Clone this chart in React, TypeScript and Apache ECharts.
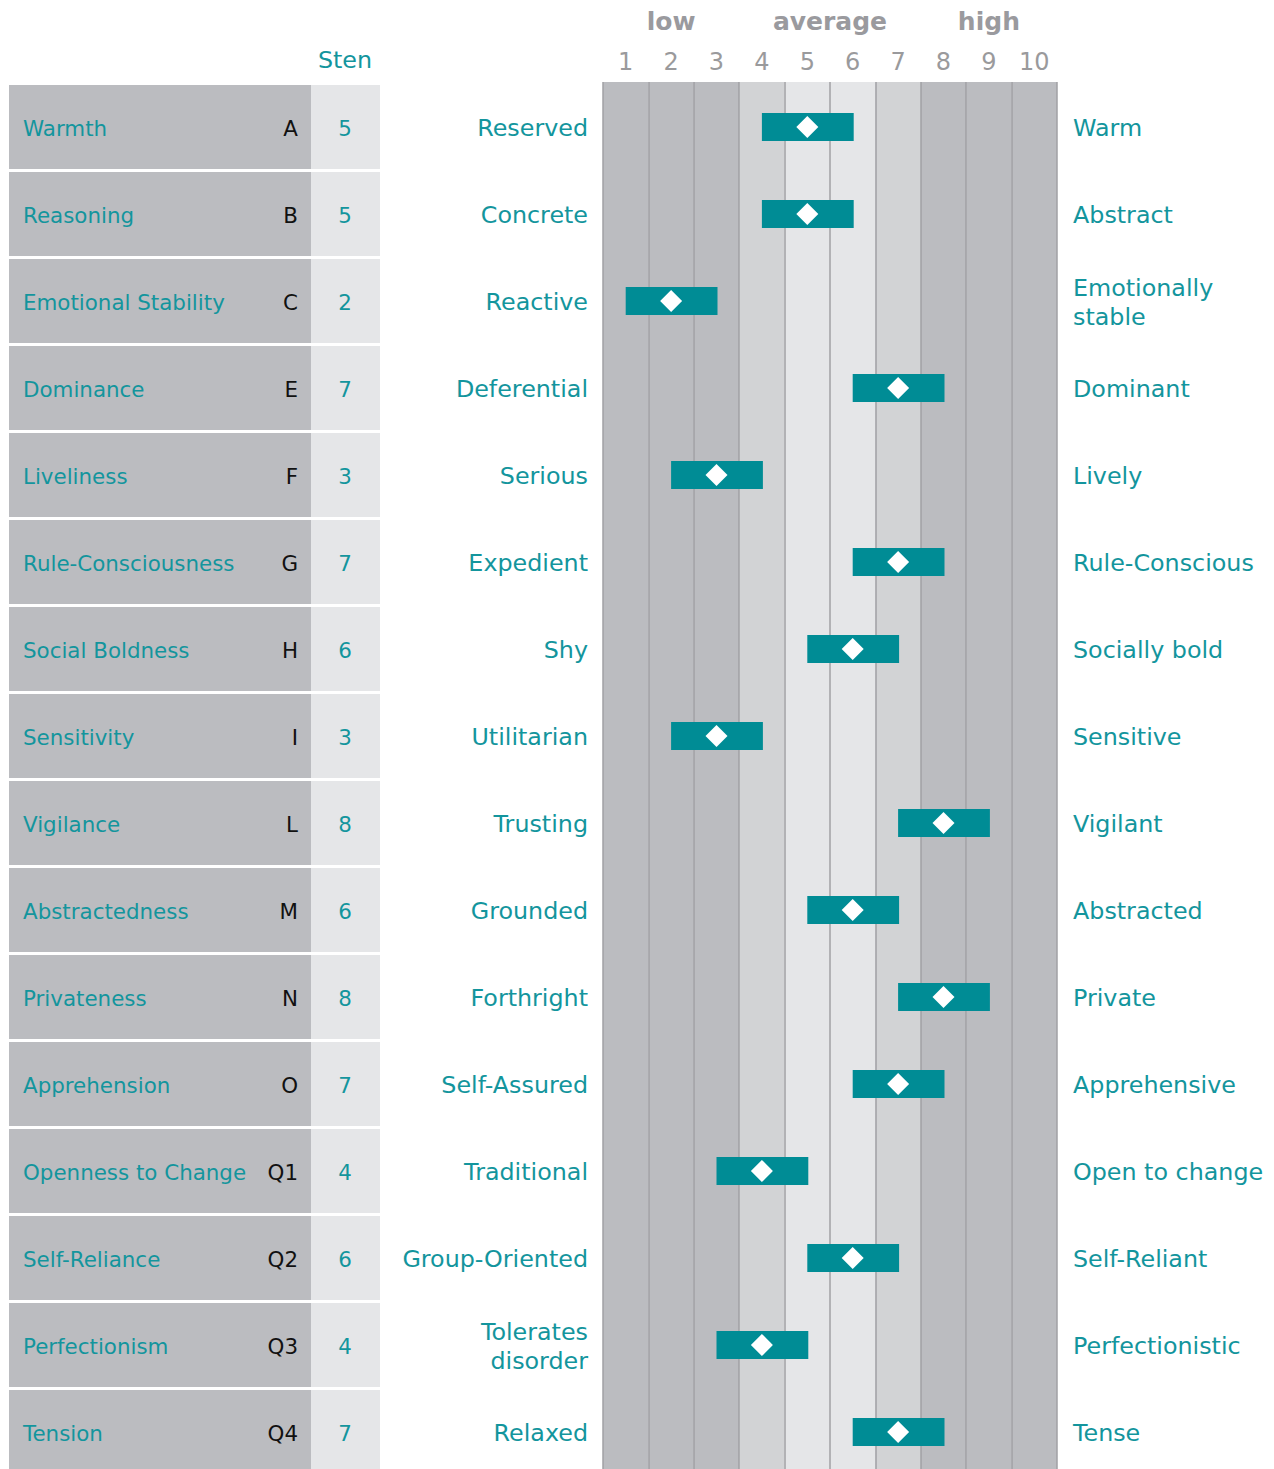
import React, { useEffect, useRef } from "react";
import * as echarts from "echarts";

const factorNames = ["Warmth", "Reasoning", "Emotional Stability", "Dominance", "Liveliness", "Rule-Consciousness", "Social Boldness", "Sensitivity", "Vigilance", "Abstractedness", "Privateness", "Apprehension", "Openness to Change", "Self-Reliance", "Perfectionism", "Tension"];
const factorCodes = ["A", "B", "C", "E", "F", "G", "H", "I", "L", "M", "N", "O", "Q1", "Q2", "Q3", "Q4"];
const stenScores = [5, 5, 2, 7, 3, 7, 6, 3, 8, 6, 8, 7, 4, 6, 4, 7];
const lowPoles = ["Reserved", "Concrete", "Reactive", "Deferential", "Serious", "Expedient", "Shy", "Utilitarian", "Trusting", "Grounded", "Forthright", "Self-Assured", "Traditional", "Group-Oriented", "Tolerates\ndisorder", "Relaxed"];
const highPoles = ["Warm", "Abstract", "Emotionally\nstable", "Dominant", "Lively", "Rule-Conscious", "Socially bold", "Sensitive", "Vigilant", "Abstracted", "Private", "Apprehensive", "Open to change", "Self-Reliant", "Perfectionistic", "Tense"];
const stenTicks = ["1", "2", "3", "4", "5", "6", "7", "8", "9", "10"];
const bandLabels = ["low", "average", "high"];
const bandStens = [[2], [5, 6], [9]];

const TEAL_TEXT = "#13959d";
const TEAL_BAR = "#008c95";
const DARK = "#bbbcc0";
const MED = "#d2d3d5";
const LIGHT = "#e5e6e8";
const columnColors = [DARK, DARK, DARK, MED, LIGHT, LIGHT, MED, DARK, DARK, DARK];
const FONT = "DejaVu Sans";

export default function App() {
  const ref = useRef<HTMLDivElement>(null);
  useEffect(() => {
    if (!ref.current) return;
    const chart = echarts.init(ref.current, null, { renderer: "svg" });
    const gridTop = 82;
    const gridHeight = 1387;
    const rowPx = 87;
    const yMin = -(127 - gridTop) / rowPx;
    const yMax = yMin + gridHeight / rowPx;

    const option: any = {
      animation: false,
      grid: { left: 603, top: gridTop, width: 454, height: gridHeight, containLabel: false },
      xAxis: {
        type: "category",
        data: stenTicks,
        position: "top",
        boundaryGap: true,
        axisLine: { show: false },
        axisTick: { show: false },
        axisLabel: { color: "#9a9a9c", fontSize: 24, fontFamily: FONT, margin: 8 },
        splitLine: { show: true, lineStyle: { color: "#a0a1a4", width: 1.5 } },
        splitArea: { show: true, areaStyle: { color: columnColors } },
      },
      yAxis: {
        type: "value",
        inverse: true,
        min: yMin,
        max: yMax,
        show: false,
        splitLine: { show: false },
      },
      graphic: [
        {
          type: "text",
          x: 345,
          y: 60,
          style: { text: "Sten", fill: TEAL_TEXT, fontSize: 23.8, fontFamily: FONT, align: "center", verticalAlign: "middle" },
        },
      ],
      series: [
        {
          type: "custom",
          name: "table",
          clip: false,
          silent: true,
          data: factorNames.map((_, i) => [0, i]),
          renderItem: (params: any, api: any) => {
            const i = params.dataIndex;
            const cy = api.coord([0, i])[1];
            const ty = cy + 1;
            const children: any[] = [
              { type: "rect", shape: { x: 9, y: cy - 42, width: 302, height: 84 }, style: { fill: DARK } },
              { type: "rect", shape: { x: 311, y: cy - 42, width: 69, height: 84 }, style: { fill: LIGHT } },
              { type: "text", x: 23, y: ty, style: { text: factorNames[i], fill: TEAL_TEXT, fontSize: 21.4, fontFamily: FONT, align: "left", verticalAlign: "middle" } },
              { type: "text", x: 298, y: ty, style: { text: factorCodes[i], fill: "#111111", fontSize: 21.4, fontFamily: FONT, align: "right", verticalAlign: "middle" } },
              { type: "text", x: 345, y: ty, style: { text: String(stenScores[i]), fill: TEAL_TEXT, fontSize: 21.4, fontFamily: FONT, align: "center", verticalAlign: "middle" } },
              { type: "text", x: 588, y: ty, style: { text: lowPoles[i], fill: TEAL_TEXT, fontSize: 23.8, fontFamily: FONT, align: "right", verticalAlign: "middle", lineHeight: 29 } },
              { type: "text", x: 1073, y: ty, style: { text: highPoles[i], fill: TEAL_TEXT, fontSize: 23.8, fontFamily: FONT, align: "left", verticalAlign: "middle", lineHeight: 29 } },
            ];
            return { type: "group", children };
          },
        },
        {
          type: "custom",
          name: "bands",
          clip: false,
          silent: true,
          data: bandLabels.map((_, i) => [bandStens[i][0] - 1, 0]),
          renderItem: (params: any, api: any) => {
            const i = params.dataIndex;
            const xs = bandStens[i].map((s) => api.coord([s - 1, 0])[0]);
            const x = xs.reduce((a, b) => a + b, 0) / xs.length;
            return {
              type: "text",
              x,
              y: 21,
              style: { text: bandLabels[i], fill: "#9a9a9e", fontSize: 25, fontWeight: "bold", fontFamily: FONT, align: "center", verticalAlign: "middle" },
            };
          },
        },
        {
          type: "custom",
          name: "scores",
          clip: false,
          silent: true,
          data: stenScores.map((s, i) => [s - 1, i]),
          renderItem: (params: any, api: any) => {
            const xi = api.value(0);
            const row = api.value(1);
            const [cx, cy] = api.coord([xi, row]);
            const left = api.coord([xi - 1, row])[0];
            const right = api.coord([xi + 1, row])[0] + 1;
            const d = 11;
            return {
              type: "group",
              children: [
                { type: "rect", shape: { x: left, y: cy - 14, width: right - left, height: 28 }, style: { fill: TEAL_BAR } },
                {
                  type: "polygon",
                  shape: { points: [[cx, cy - d], [cx + d, cy], [cx, cy + d], [cx - d, cy]] },
                  style: { fill: "#ffffff" },
                },
              ],
            };
          },
        },
      ],
    };
    chart.setOption(option);
    return () => chart.dispose();
  }, []);
  return (
    <div
      ref={ref}
      style={{ position: "absolute", left: 0, top: 0, width: 1274, height: 1469, background: "#ffffff" }}
    />
  );
}
